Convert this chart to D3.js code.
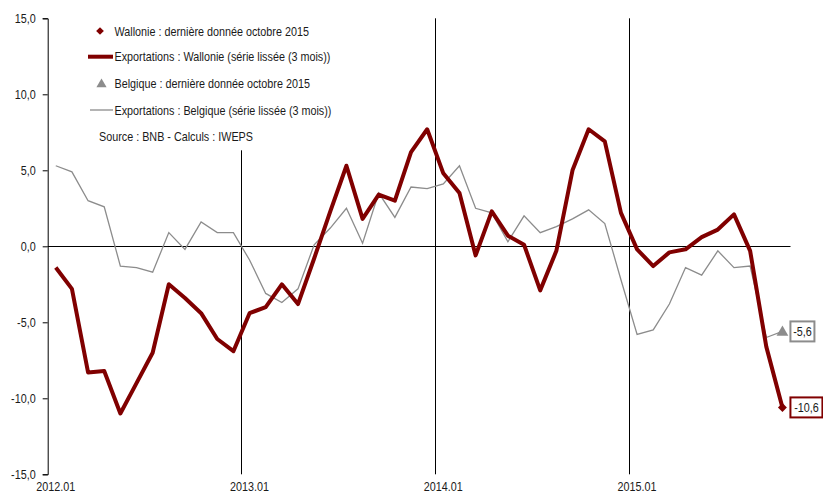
<!DOCTYPE html>
<html>
<head>
<meta charset="utf-8">
<script src="https://cdn.jsdelivr.net/npm/d3@7/dist/d3.min.js"></script>
<style>
  html, body { margin: 0; padding: 0; background: #fff; }
  svg { display: block; }
  text { font-family: "Liberation Sans", Arial, sans-serif; fill: #1a1a1a; }
</style>
</head>
<body>
<svg id="chart" width="823" height="495"></svg>
<script>
// ---- data ----
const months = [
  "2012.01","2012.02","2012.03","2012.04","2012.05","2012.06","2012.07","2012.08","2012.09","2012.10","2012.11","2012.12",
  "2013.01","2013.02","2013.03","2013.04","2013.05","2013.06","2013.07","2013.08","2013.09","2013.10","2013.11","2013.12",
  "2014.01","2014.02","2014.03","2014.04","2014.05","2014.06","2014.07","2014.08","2014.09","2014.10","2014.11","2014.12",
  "2015.01","2015.02","2015.03","2015.04","2015.05","2015.06","2015.07","2015.08","2015.09","2015.10"
];
const wallonie = [
  -1.4,-2.8,-8.3,-8.2,-11.0,-9.0,-7.0,-2.5,-3.4,-4.4,-6.1,-6.9,
  -4.4,-4.0,-2.5,-3.8,-0.8,2.3,5.3,1.8,3.4,3.0,6.2,7.7,
  4.8,3.5,-0.6,2.3,0.7,0.1,-2.9,-0.3,5.0,7.7,6.9,2.2,
  -0.2,-1.3,-0.4,-0.2,0.6,1.1,2.1,-0.3,-6.6,-10.6
];
const belgique = [
  5.3,4.9,3.0,2.6,-1.3,-1.4,-1.7,0.9,-0.2,1.6,0.9,0.9,
  -0.9,-3.1,-3.7,-2.8,0.1,1.2,2.5,0.2,3.5,1.9,3.9,3.8,
  4.1,5.3,2.5,2.2,0.3,2.0,0.9,1.3,1.8,2.4,1.5,-2.2,
  -5.8,-5.5,-3.8,-1.4,-1.9,-0.3,-1.4,-1.3,-6.0,-5.6
];
const xTickLabels = ["2012.01","2013.01","2014.01","2015.01"];
const yTicks = [15, 10, 5, 0, -5, -10, -15];
const legendLabels = [
  "Wallonie : dernière donnée octobre 2015",
  "Exportations : Wallonie (série lissée (3 mois))",
  "Belgique : dernière donnée octobre 2015",
  "Exportations : Belgique (série lissée (3 mois))"
];
const sourceText = "Source : BNB - Calculs : IWEPS";

// ---- drawing ----
(function () {
const svg = d3.select("#chart");
const red = "#800000", grey = "#8c8c8c";
const FS = 13, SX = 0.83; // condensed look (narrow font)
const pLeft = 47.7, pRight = 790.5, pTop = 18.3, pBottom = 474.3;

const x = d3.scaleBand().domain(months).range([pLeft, pRight]).padding(0);
const xc = m => x(m) + x.bandwidth() / 2;
const y = d3.scaleLinear().domain([-15, 15]).range([pBottom, pTop]);
const fmt = v => d3.format(".1f")(v).replace(".", ",").replace("\u2212", "-");

// place a narrow text at (px,py)
function narrowText(parent, px, py, str, anchor) {
  return parent.append("text")
    .attr("transform", `translate(${px},${py}) scale(${SX},1)`)
    .attr("x", 0).attr("y", 0).attr("dy", "0.36em")
    .attr("text-anchor", anchor || "start")
    .attr("font-size", FS).text(str);
}

// year separators
svg.append("g").selectAll("line")
  .data(xTickLabels.slice(1))
  .join("line")
  .attr("x1", d => Math.round(x(d)) + 0.5).attr("x2", d => Math.round(x(d)) + 0.5)
  .attr("y1", pTop).attr("y2", pBottom)
  .attr("stroke", "#000").attr("stroke-width", 1);

// legend background (covers separators)
svg.append("rect").attr("x", 70).attr("y", pTop - 2).attr("width", 270).attr("height", 134).attr("fill", "#fff");

// y axis
const yAxis = d3.axisLeft(y).tickValues(yTicks).tickFormat(fmt).tickSize(5).tickPadding(7);
const gy = svg.append("g").attr("transform", `translate(${pLeft},0)`).call(yAxis);
gy.select(".domain").attr("stroke", "#000");
gy.selectAll(".tick line").attr("stroke", "#000");
gy.selectAll(".tick text")
  .attr("font-size", FS).attr("font-family", "'Liberation Sans',Arial,sans-serif").attr("fill", "#1a1a1a")
  .attr("x", null).attr("transform", `translate(-12,0) scale(${SX},1)`);

// zero line
svg.append("line").attr("x1", pLeft).attr("x2", pRight)
  .attr("y1", Math.round(y(0)) + 0.5).attr("y2", Math.round(y(0)) + 0.5)
  .attr("stroke", "#000").attr("stroke-width", 1);

// x labels
const xAxis = d3.axisBottom(x).tickValues(xTickLabels).tickSize(0).tickPadding(7);
const gx = svg.append("g").attr("transform", `translate(0,${pBottom})`).call(xAxis);
gx.select(".domain").remove();
gx.selectAll(".tick text")
  .attr("font-size", FS).attr("font-family", "'Liberation Sans',Arial,sans-serif").attr("fill", "#1a1a1a")
  .attr("transform", `scale(${SX},1)`);

// lines
const line = d3.line().x((d, i) => xc(months[i])).y(d => y(d));
svg.append("path").datum(belgique).attr("d", line)
  .attr("fill", "none").attr("stroke", grey).attr("stroke-width", 1.3);
svg.append("path").datum(wallonie).attr("d", line)
  .attr("fill", "none").attr("stroke", red).attr("stroke-width", 4).attr("stroke-linejoin", "round");

// end markers
const lastM = months[months.length - 1];
const bLast = belgique[belgique.length - 1], wLast = wallonie[wallonie.length - 1];
svg.append("path").attr("d", d3.symbol(d3.symbolTriangle, 60)())
  .attr("transform", `translate(${xc(lastM)},${y(bLast) + 1})`).attr("fill", grey);
svg.append("path").attr("d", d3.symbol(d3.symbolSquare, 40)())
  .attr("transform", `translate(${xc(lastM)},${y(wLast)}) rotate(45)`).attr("fill", red);

// end labels
function endLabel(v, color, w) {
  const g = svg.append("g").attr("transform", `translate(${xc(lastM) + 8},${y(v)})`);
  g.append("rect").attr("x", 0).attr("y", -10).attr("width", w).attr("height", 20)
    .attr("fill", "#fff").attr("stroke", color).attr("stroke-width", 2);
  narrowText(g, w / 2, 0, fmt(v), "middle");
}
endLabel(bLast, grey, 24);
endLabel(wLast, red, 32);

// legend
const lg = svg.append("g");
const rows = [31, 56.7, 83.3, 110];
lg.append("path").attr("d", d3.symbol(d3.symbolSquare, 30)()).attr("transform", `translate(100,${rows[0]}) rotate(45)`).attr("fill", red);
lg.append("line").attr("x1", 88).attr("x2", 113).attr("y1", rows[1]).attr("y2", rows[1]).attr("stroke", red).attr("stroke-width", 4);
lg.append("path").attr("d", d3.symbol(d3.symbolTriangle, 45)()).attr("transform", `translate(101.5,${rows[2] + 1})`).attr("fill", grey);
lg.append("line").attr("x1", 90).attr("x2", 113).attr("y1", rows[3]).attr("y2", rows[3]).attr("stroke", grey).attr("stroke-width", 1.3);
legendLabels.forEach((t, i) => narrowText(lg, 114.5, rows[i], t));
narrowText(lg, 99, 136.7, sourceText);
})();
</script>
</body>
</html>
